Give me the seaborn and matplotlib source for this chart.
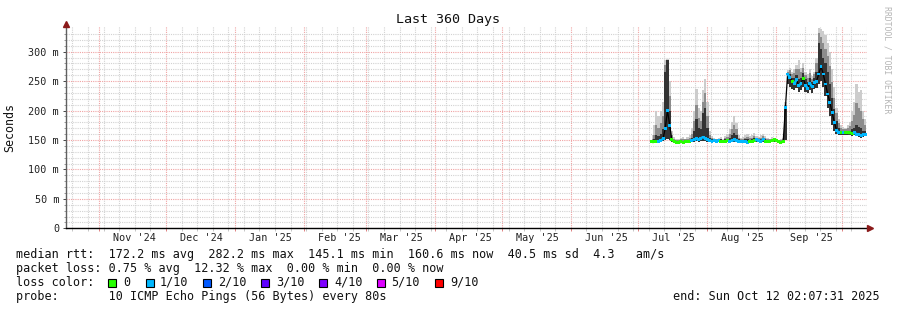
import numpy as np
import pandas as pd
import matplotlib
matplotlib.use("Agg")
import matplotlib.pyplot as plt
import matplotlib.dates as mdates
from matplotlib.ticker import FixedLocator, NullFormatter
from matplotlib.patches import Rectangle
from matplotlib.collections import LineCollection
import seaborn as sns

# ---------------- data ----------------
start_time = "2025-07-07 10:00"
median_ms = [147, 147, 148, 148, 149, 152, 170, 200, 175, 150,
             147, 146, 146, 147, 146, 147, 148, 147, 149, 151,
             152, 150, 153, 155, 152, 150, 149, 148, 149, 148,
             149, 148, 147, 148, 149, 148, 149, 150, 149, 148,
             147, 148, 147, 146, 147, 148, 149, 150, 149, 148,
             150, 148, 147, 148, 149, 150, 149, 147, 146, 147,
             205, 262, 256, 250, 246, 252, 242, 246, 255, 243,
             238, 246, 240, 248, 250, 262, 275, 262, 245, 228,
             214, 196, 180, 166, 163, 162, 163, 163, 162, 162,
             161, 162, 160, 159, 158, 159, 160]
smoke_max_ms = [158, 175, 200, 190, 200, 215, 285, 287, 250, 165,
                155, 152, 152, 153, 155, 152, 155, 158, 170, 200,
                236, 205, 200, 235, 253, 215, 165, 156, 153, 152,
                154, 155, 152, 156, 160, 168, 180, 190, 178, 158,
                154, 155, 158, 160, 156, 158, 162, 156, 155, 158,
                160, 156, 153, 152, 155, 154, 152, 150, 152, 153,
                215, 268, 272, 265, 270, 278, 285, 272, 280, 265,
                262, 270, 258, 265, 290, 340, 338, 335, 328, 315,
                300, 270, 240, 205, 185, 175, 172, 170, 175, 180,
                200, 215, 245, 232, 235, 200, 185]
smoke_mid_ms = [152, 158, 175, 170, 178, 190, 278, 286, 225, 158,
                152, 150, 150, 151, 152, 151, 152, 153, 160, 182,
                210, 188, 182, 215, 230, 190, 158, 153, 152, 151,
                152, 152, 150, 153, 155, 160, 168, 175, 168, 154,
                152, 152, 154, 155, 153, 154, 156, 154, 153, 154,
                156, 153, 151, 151, 152, 153, 151, 150, 150, 151,
                210, 266, 268, 262, 264, 270, 270, 265, 272, 260,
                256, 264, 254, 262, 280, 332, 325, 315, 305, 292,
                275, 248, 222, 195, 178, 170, 169, 168, 170, 173,
                182, 192, 212, 205, 200, 185, 175]
smoke_dark_ms = [149, 151, 158, 156, 160, 168, 265, 285, 200, 153,
                 149, 148, 148, 149, 149, 149, 150, 150, 154, 165,
                 185, 170, 168, 195, 205, 170, 154, 151, 151, 150,
                 151, 151, 149, 151, 152, 154, 158, 162, 158, 151,
                 150, 150, 151, 152, 150, 152, 153, 152, 151, 152,
                 153, 151, 150, 150, 151, 152, 151, 149, 149, 150,
                 207, 264, 262, 256, 256, 260, 253, 256, 263, 253,
                 248, 256, 248, 256, 266, 315, 305, 290, 280, 265,
                 245, 222, 202, 182, 170, 166, 165, 165, 165, 166,
                 168, 170, 175, 172, 170, 166, 165]
smoke_min_ms = [145, 145, 146, 146, 147, 149, 150, 152, 150, 147,
                145, 144, 144, 145, 144, 145, 146, 145, 146, 147,
                148, 147, 148, 149, 148, 147, 146, 146, 146, 146,
                146, 146, 145, 146, 146, 146, 146, 147, 146, 146,
                145, 146, 145, 144, 145, 146, 146, 147, 146, 146,
                147, 146, 145, 146, 146, 147, 146, 145, 144, 145,
                150, 245, 240, 236, 234, 238, 232, 234, 240, 232,
                230, 234, 230, 236, 238, 245, 250, 240, 225, 205,
                190, 175, 165, 160, 158, 158, 159, 159, 158, 158,
                157, 158, 156, 155, 154, 155, 156]
loss_tenths = [0, 0, 0, 1, 1, 1, 1, 1, 1, 0,
               0, 0, 0, 0, 0, 0, 0, 0, 1, 1,
               1, 1, 1, 1, 1, 1, 1, 1, 1, 1,
               1, 0, 0, 0, 0, 1, 1, 1, 1, 1,
               1, 1, 1, 1, 0, 0, 0, 1, 1, 1,
               1, 0, 0, 0, 0, 0, 0, 0, 0, 0,
               1, 1, 1, 0, 1, 1, 1, 1, 0, 1,
               1, 1, 1, 1, 1, 1, 1, 1, 1, 1,
               1, 1, 1, 1, 1, 0, 1, 0, 0, 0,
               0, 1, 1, 1, 1, 1, 1]

month_labels = ["Nov '24", "Dec '24", "Jan '25", "Feb '25", "Mar '25", "Apr '25",
                "May '25", "Jun '25", "Jul '25", "Aug '25", "Sep '25"]
month_starts = ["2024-11-01", "2024-12-01", "2025-01-01", "2025-02-01", "2025-03-01",
                "2025-04-01", "2025-05-01", "2025-06-01", "2025-07-01", "2025-08-01",
                "2025-09-01"]
y_ticks = [0, 50, 100, 150, 200, 250, 300]
y_tick_labels = ["0", "50 m", "100 m", "150 m", "200 m", "250 m", "300 m"]
loss_names = ["0", "1/10", "2/10", "3/10", "4/10", "5/10", "9/10"]
loss_colors = ["#26ff00", "#00b8ff", "#0059ff", "#5e00ff", "#7e00ff", "#dd00ff", "#ff0000"]

# ---------------- figure ----------------
sns.set_theme(style="white")
plt.rcParams["font.family"] = ["DejaVu Sans Mono"]

W, H = 897, 310
fig = plt.figure(figsize=(W / 100, H / 100), dpi=100)
fig.patch.set_facecolor("white")
ax = fig.add_axes([66 / W, 1 - 228.3 / H, 801 / W, 202 / H])
ax.set_facecolor("white")

t = pd.date_range(start_time, periods=len(median_ms), freq="D")
df = pd.DataFrame({
    "time": t,
    "median": median_ms,
    "smax": smoke_max_ms,
    "smid": smoke_mid_ms,
    "sdark": smoke_dark_ms,
    "smin": smoke_min_ms,
    "loss": [loss_names[v] if v < 6 else "9/10" for v in loss_tenths],
})

# smoke
ax.fill_between(df["time"], df["smin"], df["smax"], color="#cccccc", lw=0, step="mid", zorder=2)
ax.fill_between(df["time"], df["smin"], df["smid"], color="#8c8c8c", lw=0, step="mid", zorder=3)
ax.fill_between(df["time"], df["smin"], df["sdark"], color="#333333", lw=0, step="mid", zorder=3)

# median: thin black connecting line
sns.lineplot(data=df, x="time", y="median", color="black", lw=0.9, ax=ax, zorder=4)

# loss-coloured median: joined only along nearly flat stretches, dots elsewhere
pal = dict(zip(loss_names, loss_colors))
xnum = mdates.date2num(df["time"].dt.to_pydatetime())
med_arr = df["median"].to_numpy(dtype=float)
loss_arr = df["loss"].to_numpy()
segs, cols = [], []
for i in range(len(med_arr) - 1):
    if loss_arr[i] == loss_arr[i + 1] and abs(med_arr[i + 1] - med_arr[i]) <= 6:
        segs.append([(xnum[i], med_arr[i]), (xnum[i + 1], med_arr[i + 1])])
        cols.append(pal[loss_arr[i]])
ax.add_collection(LineCollection(segs, colors=cols, linewidths=1.7, zorder=5, capstyle="butt"))
sns.scatterplot(data=df, x="time", y="median", hue="loss", palette=pal, marker="s",
                s=4.5, linewidth=0, legend=False, ax=ax, zorder=6)

# axes limits
ax.set_xlim(pd.Timestamp("2024-10-17 02:07:31"), pd.Timestamp("2025-10-12 02:07:31"))
ax.set_ylim(0, 343)

# grid
ax.yaxis.set_major_locator(FixedLocator(y_ticks))
ax.yaxis.set_minor_locator(FixedLocator([v for v in range(10, 340, 10) if v % 50]))
ax.set_yticklabels(y_tick_labels)
ax.xaxis.set_major_locator(mdates.MonthLocator())
ax.xaxis.set_minor_locator(mdates.WeekdayLocator(byweekday=mdates.SU))
ax.xaxis.set_major_formatter(NullFormatter())
ax.grid(which="minor", color="#d2d2d2", ls=(0, (1, 1)), lw=0.8)
ax.grid(which="major", color="#f0a3a3", ls=(0, (1, 1)), lw=0.8)
ax.set_axisbelow(True)

ax.tick_params(axis="y", which="major", length=2.5, width=0.7, color="#444", pad=2.5,
               labelsize=7.3, labelcolor="#222", direction="out", left=True)
ax.tick_params(axis="y", which="minor", length=1.5, width=0.6, color="#888", left=True)
ax.tick_params(axis="x", which="major", length=2, width=0.7, color="#e08080", bottom=True)
ax.tick_params(axis="x", which="minor", length=2, width=0.6, color="#bbbbbb", bottom=True)

for s in ["top", "right"]:
    ax.spines[s].set_visible(False)
ax.spines["left"].set_color("#606060")
ax.spines["left"].set_linewidth(1.0)
ax.spines["bottom"].set_color("black")
ax.spines["bottom"].set_linewidth(1.0)
ax.set_xlabel("")
ax.set_ylabel("")

# month labels (centred mid-month)
for lab, ms in zip(month_labels, month_starts):
    ax.text(pd.Timestamp(ms) + pd.Timedelta(days=16), -0.05, lab,
            transform=ax.get_xaxis_transform(), ha="center", va="center",
            fontsize=7.3, color="#222")

# axis arrows
ax.plot([0], [1.012], marker="^", ms=4.5, color="#8b1a1a", transform=ax.transAxes, clip_on=False, zorder=10)
ax.plot([1.004], [0], marker=">", ms=4.5, color="#8b1a1a", transform=ax.transAxes, clip_on=False, zorder=10)

# texts
def px(x, y):
    return x / W, 1 - y / H

fig.text(*px(448, 19), "Last 360 Days", ha="center", va="center", fontsize=9.6, color="#111")
fig.text(*px(10, 127), "Seconds", rotation=90, ha="center", va="center", fontsize=8.4, color="#111")
fig.text(*px(887, 60), "RRDTOOL / TOBI OETIKER", rotation=270, ha="center", va="center",
         fontsize=5.9, color="#b5b5b5")

fs = 8.5
fig.text(*px(16, 254.3), "median rtt:  172.2 ms avg  282.2 ms max  145.1 ms min  160.6 ms now  40.5 ms sd  4.3   am/s",
         ha="left", va="center", fontsize=fs, color="#111")
fig.text(*px(16, 268.3), "packet loss: 0.75 % avg  12.32 % max  0.00 % min  0.00 % now",
         ha="left", va="center", fontsize=fs, color="#111")
fig.text(*px(16, 282.3), "loss color:", ha="left", va="center", fontsize=fs, color="#111")
sq_x = [108, 146, 203, 261, 319, 377, 435]
tx_x = [123, 160, 218, 276, 334, 391, 450]
for name, col, sx, tx in zip(loss_names, loss_colors, sq_x, tx_x):
    fig.add_artist(Rectangle(((sx) / W, 1 - 286.5 / H), 8 / W, 8 / H, transform=fig.transFigure,
                             facecolor=col, edgecolor="black", lw=0.8))
    fig.text(*px(tx, 282.3), name, ha="left", va="center", fontsize=fs, color="#111")
fig.text(*px(16, 296.3), "probe:       10 ICMP Echo Pings (56 Bytes) every 80s",
         ha="left", va="center", fontsize=fs, color="#111")
fig.text(*px(880, 296.3), "end: Sun Oct 12 02:07:31 2025", ha="right", va="center",
         fontsize=fs, color="#111")

fig.savefig("out.png", dpi=100, facecolor="white")
